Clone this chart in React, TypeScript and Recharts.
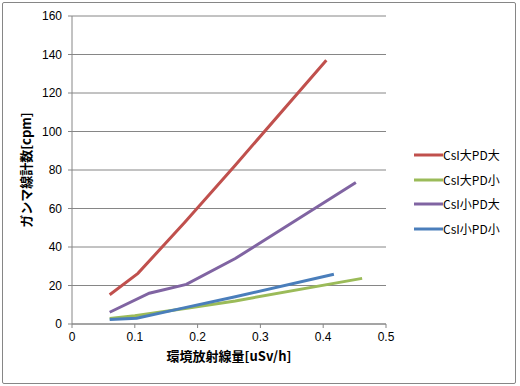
import React from "react";
import { LineChart, Line, XAxis, YAxis, CartesianGrid, Legend } from "recharts";

const seriesNames = ["CsI大PD大", "CsI大PD小", "CsI小PD大", "CsI小PD小"];
const seriesColors = ["#C0504D", "#9BBB59", "#8064A2", "#4A7EBB"];

const doseLL = [0.06, 0.105, 0.18, 0.26, 0.405];
const countLL = [15.2, 26.3, 53, 82.5, 137];
const doseLS = [0.06, 0.1, 0.18, 0.26, 0.462];
const countLS = [2.8, 4.3, 8, 12, 23.7];
const doseSL = [0.06, 0.123, 0.182, 0.26, 0.452];
const countSL = [6.1, 16, 20.6, 34, 73.5];
const doseSS = [0.06, 0.103, 0.18, 0.26, 0.417];
const countSS = [2.4, 3, 8.5, 14.2, 25.8];

const xTicks = [0, 0.1, 0.2, 0.3, 0.4, 0.5];
const yTicks = [0, 20, 40, 60, 80, 100, 120, 140, 160];

const xTitle = "環境放射線量[uSv/h]";
const yTitle = "ガンマ線計数[cpm]";

const toRows = (xs: number[], ys: number[]) => xs.map((x, i) => ({ x, y: ys[i] }));

const series = [
  toRows(doseLL, countLL),
  toRows(doseLS, countLS),
  toRows(doseSL, countSL),
  toRows(doseSS, countSS),
];

const gray = "#868686";
const tickFont = { fontFamily: "'Liberation Sans', Arial, sans-serif", fontSize: 12, fill: "#000" };
const titleFont = "'Noto Sans CJK JP', 'Liberation Sans', sans-serif";

const LegendContent = (props: any) => {
  const payload = props.payload || [];
  return (
    <div style={{ fontFamily: titleFont, fontSize: 12, color: "#000" }}>
      {payload.map((entry: any, i: number) => (
        <div key={i} style={{ display: "flex", alignItems: "center", height: 24.5 }}>
          <svg width={29} height={6} style={{ display: "block" }}>
            <line x1={0} y1={3} x2={29} y2={3} stroke={entry.color} strokeWidth={3} />
          </svg>
          <span style={{ lineHeight: "14px" }}>{entry.value}</span>
        </div>
      ))}
    </div>
  );
};

export default function App() {
  return (
    <div style={{ position: "absolute", left: 0, top: 0, width: 520, height: 386, background: "#fff" }}>
      <div
        style={{
          position: "absolute",
          left: 2,
          top: 2,
          width: 512,
          height: 380,
          border: `1px solid ${gray}`,
          borderRadius: 2,
        }}
      />
      <div style={{ position: "absolute", left: 0, top: 0 }}>
        <LineChart width={520} height={386} margin={{ top: 16, right: 134, bottom: 22, left: 12 }}>
          <CartesianGrid vertical={false} stroke={gray} strokeWidth={1} />
          <XAxis
            type="number"
            dataKey="x"
            domain={[0, 0.5]}
            ticks={xTicks}
            height={40}
            stroke={gray}
            tickSize={4}
            tickMargin={4}
            tick={tickFont}
            allowDataOverflow
            label={{
              value: xTitle,
              position: "insideBottom",
              offset: 3,
              style: { fontFamily: titleFont, fontSize: 13, fontWeight: "bold", fill: "#000" },
            }}
          />
          <YAxis
            type="number"
            dataKey="y"
            domain={[0, 160]}
            ticks={yTicks}
            width={60}
            stroke={gray}
            tickSize={4}
            tickMargin={6}
            tick={tickFont}
            label={{
              value: yTitle,
              angle: -90,
              position: "insideLeft",
              offset: 14,
              style: { textAnchor: "middle", fontFamily: titleFont, fontSize: 13, fontWeight: "bold", fill: "#000" },
            }}
          />
          {series.map((rows, i) => (
            <Line
              key={seriesNames[i]}
              data={rows}
              dataKey="y"
              name={seriesNames[i]}
              stroke={seriesColors[i]}
              strokeWidth={3}
              dot={false}
              activeDot={false}
              isAnimationActive={false}
              type="linear"
            />
          ))}
          <Legend
            layout="vertical"
            align="center"
            verticalAlign="middle"
            content={<LegendContent />}
            wrapperStyle={{ left: 414, top: 143, width: 100 }}
          />
        </LineChart>
      </div>
    </div>
  );
}
